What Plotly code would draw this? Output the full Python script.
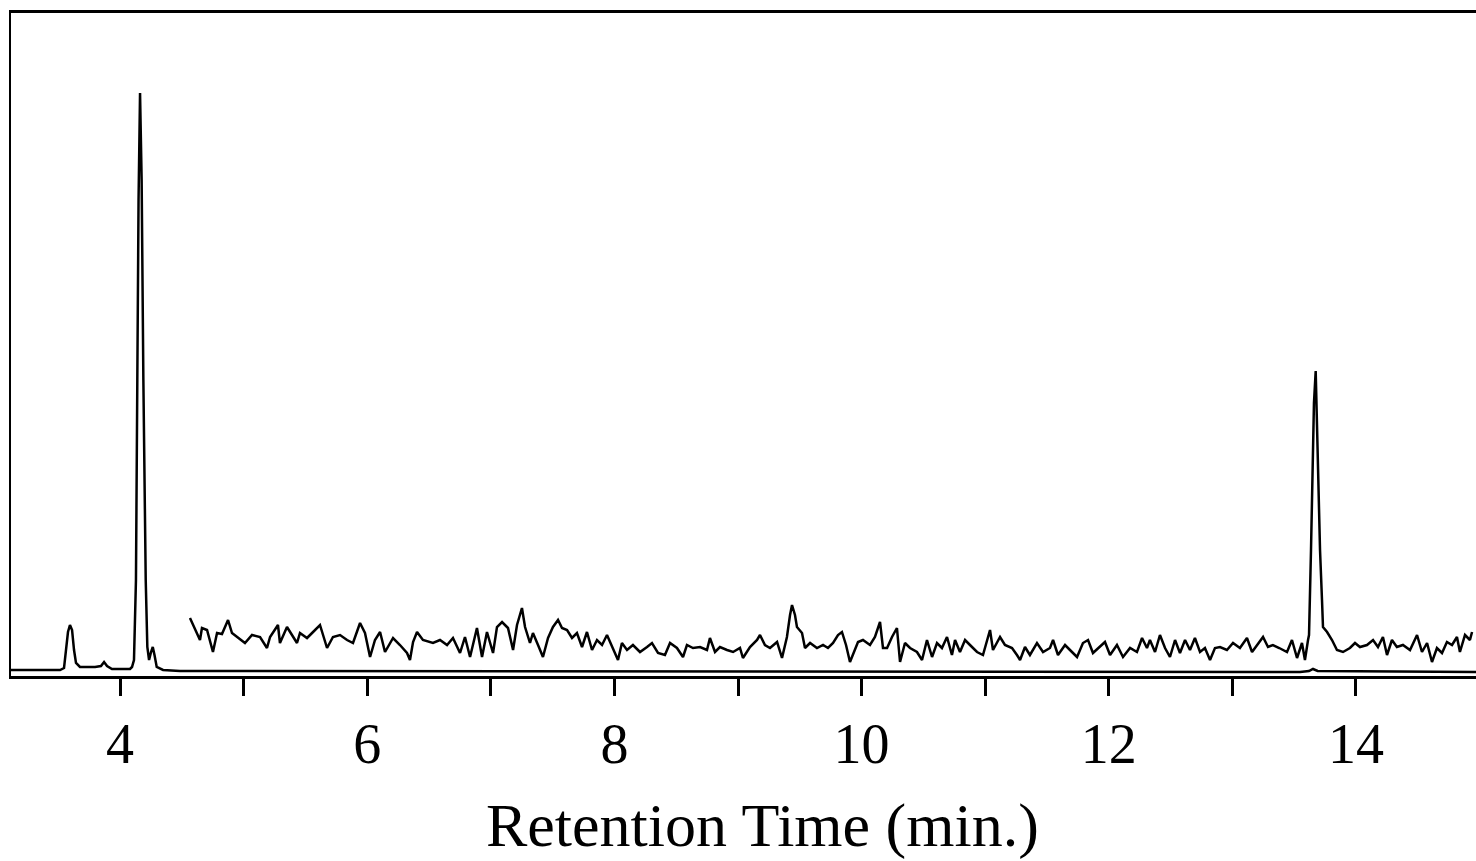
import plotly.graph_objects as go

# Lower (full-scale) chromatogram: retention time (min) and response
full_time = [3.118, 3.515, 3.547, 3.563, 3.579, 3.595, 3.612, 3.628, 3.644, 3.676,
             3.798, 3.846, 3.871, 3.895, 3.935, 4.081, 4.097, 4.113, 4.129, 4.140,
             4.150, 4.162, 4.175, 4.189, 4.208, 4.221, 4.235, 4.251, 4.265, 4.279,
             4.297, 4.348, 4.485, 13.547, 13.620, 13.652, 13.690, 14.971]
full_resp = [6, 6, 8, 26, 44, 51, 46, 26, 13, 9,
             9, 10, 14, 10, 7, 7, 9, 16, 96, 296,
             476, 583, 496, 296, 96, 29, 16, 24, 29, 21,
             9, 6, 5, 4, 5, 7, 5, 4]

# Upper (expanded, offset) chromatogram trace
exp_time = [4.566, 4.607, 4.647, 4.663, 4.704, 4.752, 4.785, 4.825, 4.874, 4.906,
            4.955, 5.011, 5.068, 5.133, 5.189, 5.214, 5.278, 5.294, 5.351, 5.392,
            5.432, 5.456, 5.513, 5.562, 5.618, 5.675, 5.723, 5.780, 5.837, 5.885,
            5.942, 5.982, 6.023, 6.063, 6.104, 6.144, 6.209, 6.265, 6.322, 6.346,
            6.371, 6.403, 6.451, 6.532, 6.589, 6.646, 6.694, 6.751, 6.791, 6.832,
            6.888, 6.929, 6.969, 7.018, 7.050, 7.091, 7.139, 7.180, 7.212, 7.252,
            7.277, 7.317, 7.341, 7.382, 7.422, 7.463, 7.503, 7.544, 7.576, 7.617,
            7.657, 7.697, 7.738, 7.778, 7.819, 7.859, 7.900, 7.940, 7.989, 8.029,
            8.061, 8.102, 8.150, 8.207, 8.264, 8.304, 8.353, 8.409, 8.450, 8.506,
            8.555, 8.587, 8.636, 8.693, 8.749, 8.773, 8.814, 8.854, 8.911, 8.960,
            9.016, 9.040, 9.097, 9.154, 9.178, 9.218, 9.259, 9.316, 9.356, 9.396,
            9.421, 9.437, 9.461, 9.477, 9.518, 9.542, 9.583, 9.639, 9.688, 9.728,
            9.769, 9.809, 9.841, 9.874, 9.906, 9.939, 9.971, 10.011, 10.068, 10.108,
            10.149, 10.173, 10.206, 10.246, 10.286, 10.311, 10.351, 10.392, 10.448, 10.489,
            10.529, 10.570, 10.610, 10.650, 10.691, 10.731, 10.756, 10.796, 10.837, 10.877,
            10.934, 10.982, 11.039, 11.063, 11.120, 11.160, 11.217, 11.257, 11.282, 11.322,
            11.362, 11.419, 11.468, 11.524, 11.549, 11.589, 11.646, 11.686, 11.743, 11.791,
            11.832, 11.872, 11.929, 11.969, 12.010, 12.066, 12.115, 12.172, 12.228, 12.269,
            12.309, 12.333, 12.374, 12.414, 12.455, 12.495, 12.536, 12.576, 12.617, 12.657,
            12.697, 12.738, 12.778, 12.819, 12.859, 12.900, 12.956, 13.005, 13.061, 13.118,
            13.159, 13.199, 13.248, 13.288, 13.328, 13.379, 13.442, 13.482, 13.523, 13.563,
            13.587, 13.612, 13.620, 13.636, 13.652, 13.660, 13.674, 13.685, 13.693, 13.709,
            13.725, 13.733, 13.766, 13.806, 13.846, 13.895, 13.951, 13.992, 14.032, 14.089,
            14.138, 14.178, 14.218, 14.251, 14.291, 14.331, 14.380, 14.437, 14.494, 14.534,
            14.575, 14.615, 14.655, 14.696, 14.736, 14.777, 14.817, 14.841, 14.882, 14.922,
            14.939]
exp_resp = [58, 46, 36, 48, 46, 24, 43, 42, 56, 43,
            38, 33, 41, 39, 28, 39, 51, 33, 49, 41,
            33, 43, 38, 44, 51, 28, 39, 41, 36, 33,
            53, 43, 19, 36, 44, 24, 38, 31, 23, 16,
            34, 44, 36, 33, 36, 31, 38, 23, 39, 19,
            48, 19, 44, 23, 49, 54, 48, 26, 51, 68,
            49, 33, 43, 31, 19, 38, 49, 56, 48, 46,
            38, 43, 29, 44, 26, 36, 31, 41, 28, 16,
            33, 26, 31, 24, 29, 33, 23, 21, 33, 28,
            19, 31, 28, 29, 26, 38, 24, 29, 26, 24,
            28, 18, 29, 36, 41, 31, 28, 34, 18, 39,
            61, 71, 61, 49, 43, 28, 33, 28, 31, 28,
            33, 41, 44, 31, 14, 24, 34, 36, 31, 39,
            54, 28, 28, 39, 48, 14, 33, 28, 24, 16,
            36, 19, 33, 28, 39, 21, 36, 24, 36, 31,
            24, 21, 46, 26, 39, 31, 28, 21, 16, 29,
            21, 33, 24, 28, 36, 21, 31, 26, 19, 33,
            36, 23, 29, 34, 21, 31, 19, 28, 24, 38,
            28, 36, 24, 41, 28, 19, 36, 23, 36, 26,
            38, 24, 28, 16, 28, 29, 26, 33, 28, 38,
            24, 31, 39, 29, 31, 28, 24, 36, 18, 33,
            16, 36, 41, 126, 226, 273, 305, 243, 193, 126,
            76, 49, 44, 36, 26, 24, 28, 33, 29, 31,
            36, 29, 39, 21, 36, 29, 31, 26, 41, 24,
            33, 14, 28, 23, 34, 31, 39, 24, 41, 36,
            44]

tick_vals = [4, 5, 6, 7, 8, 9, 10, 11, 12, 13, 14]
tick_text = ["4", "", "6", "", "8", "", "10", "", "12", "", "14"]
x_title = "Retention Time (min.)"

FONT = "Liberation Serif, Times New Roman, serif"

fig = go.Figure()
fig.add_trace(go.Scatter(x=full_time, y=full_resp, mode="lines",
                         line=dict(color="black", width=2.5), hoverinfo="skip"))
fig.add_trace(go.Scatter(x=exp_time, y=exp_resp, mode="lines",
                         line=dict(color="black", width=2.5), hoverinfo="skip"))

fig.update_layout(
    width=1476, height=861,
    margin=dict(l=11, r=0, t=13, b=185),
    paper_bgcolor="white", plot_bgcolor="white",
    showlegend=False,
    font=dict(family=FONT, color="black"),
    xaxis=dict(
        range=[3.118, 14.971],
        tickmode="array", tickvals=tick_vals, ticktext=tick_text,
        ticks="outside", ticklen=17, tickwidth=3, tickcolor="black",
        showline=True, linewidth=3, linecolor="black", mirror=True,
        showgrid=False, zeroline=False,
        tickfont=dict(family=FONT, size=56, color="black"),
        ticklabelstandoff=0,
    ),
    yaxis=dict(
        range=[0, 663],
        showline=True, linewidth=2, linecolor="black",
        showgrid=False, zeroline=False, showticklabels=False, ticks="",
    ),
    annotations=[dict(
        text=x_title, xref="paper", yref="paper", x=0.513, y=-0.226,
        xanchor="center", yanchor="middle", showarrow=False,
        font=dict(family=FONT, size=62, color="black"),
    )],
)

fig.write_html("out.html", config={"displayModeBar": False},
               post_script="document.body.style.margin='0';document.body.style.overflow='hidden';")
